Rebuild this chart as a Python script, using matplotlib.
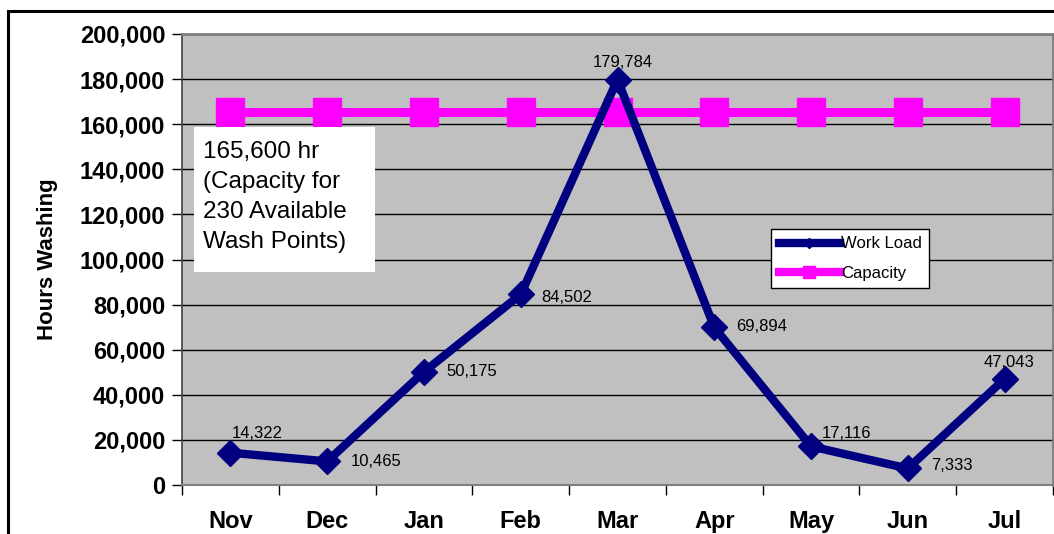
import matplotlib
matplotlib.use("Agg")
import matplotlib.pyplot as plt
from matplotlib.lines import Line2D
from matplotlib.patches import Rectangle
from matplotlib.ticker import FuncFormatter

plt.rcParams['font.family'] = ['Liberation Sans', 'DejaVu Sans']

months = ["Nov", "Dec", "Jan", "Feb", "Mar", "Apr", "May", "Jun", "Jul"]
work_load = [14322, 10465, 50175, 84502, 179784, 69894, 17116, 7333, 47043]
capacity = [165600] * 9
label_offsets = [(19, 14, 'center'), (17, 0, 'left'), (16, 0, 'left'), (15, -2, 'left'),
                 (4, 12, 'center'), (16, 1, 'left'), (8, 9, 'left'), (17, 2, 'left'), (3, 12, 'center')]
note_text = "165,600 hr\n(Capacity for\n230 Available\nWash Points)"

W, H = 1054, 534
fig = plt.figure(figsize=(W / 100, H / 100), dpi=100)
fig.patch.set_facecolor('white')

# outer chart border
fig.add_artist(Rectangle((8 / W, -0.1), 1.2, (H - 11) / H + 0.1, transform=fig.transFigure,
                         fill=False, edgecolor='black', linewidth=2.2, zorder=0))

ax = fig.add_axes([182 / W, 49 / H, 871 / W, 451 / H])
ax.set_facecolor('#C0C0C0')
x = list(range(len(months)))

ax.set_xlim(-0.5, len(months) - 0.5)
ax.set_ylim(0, 200000)
ax.set_yticks(range(0, 200001, 20000))
ax.yaxis.set_major_formatter(FuncFormatter(lambda v, p: f"{int(v):,}"))
ax.grid(axis='y', color='black', linewidth=1.0, zorder=1)
ax.set_axisbelow(True)

ax.set_xticks([i - 0.5 for i in range(len(months) + 1)])
ax.set_xticklabels([])
ax.set_xticks(x, minor=True)
ax.set_xticklabels(months, minor=True, fontsize=17, fontweight='bold')
ax.tick_params(axis='x', which='minor', length=0, pad=26)
ax.tick_params(axis='x', which='major', length=7, width=1, color='black', direction='out')
ax.tick_params(axis='y', length=7, width=1, labelsize=17, direction='out', pad=5)
for lab in ax.get_yticklabels():
    lab.set_fontweight('bold')
for lab in ax.get_xticklabels(minor=True):
    lab.set_va('center')

for s in ['top', 'right']:
    ax.spines[s].set_color('#808080')
    ax.spines[s].set_linewidth(2)
ax.spines['left'].set_color('#404040')
ax.spines['left'].set_linewidth(1.2)
ax.spines['bottom'].set_color('#808080')
ax.spines['bottom'].set_linewidth(1.5)

ax.plot(x, capacity, color='#FF00FF', linewidth=6.5, marker='s', markersize=20,
        zorder=3, clip_on=False)
ax.plot(x, work_load, color='#000080', linewidth=6, marker='D', markersize=13,
        zorder=4, clip_on=False)

for xi, v, (dx, dy, ha) in zip(x, work_load, label_offsets):
    ax.annotate(f"{v:,}", (xi, v), xytext=(dx, dy), textcoords='offset points',
                ha=ha, va='center', fontsize=12, color='black', zorder=5)

ax.set_ylabel("Hours Washing", fontsize=16, fontweight='bold')
ax.yaxis.set_label_coords(-0.157 + (45 - 32) / 871, 0.5)

# note box
fig.add_artist(Rectangle((194 / W, (H - 272) / H), 181 / W, 145 / H, transform=fig.transFigure,
                         facecolor='white', edgecolor='none', zorder=6))
fig.text(203 / W, (H - 197) / H, note_text, fontsize=17.5, ha='left', va='center',
         linespacing=1.48, zorder=7)

handles = [Line2D([], [], color='#000080', linewidth=6, marker='D', markersize=5),
           Line2D([], [], color='#FF00FF', linewidth=6, marker='s', markersize=9)]
leg = ax.legend(handles, ["Work Load", "Capacity"], loc='upper left',
                bbox_to_anchor=(771 / W, (H - 229) / H), bbox_transform=fig.transFigure,
                fontsize=12, frameon=True, fancybox=False, edgecolor='black',
                facecolor='white', framealpha=1,
                handlelength=3.7, handletextpad=0.05, borderpad=0.45, labelspacing=0.85,
                borderaxespad=0)
leg.get_frame().set_linewidth(1)
leg.set_zorder(8)

fig.savefig("out.png", dpi=100, facecolor='white')
